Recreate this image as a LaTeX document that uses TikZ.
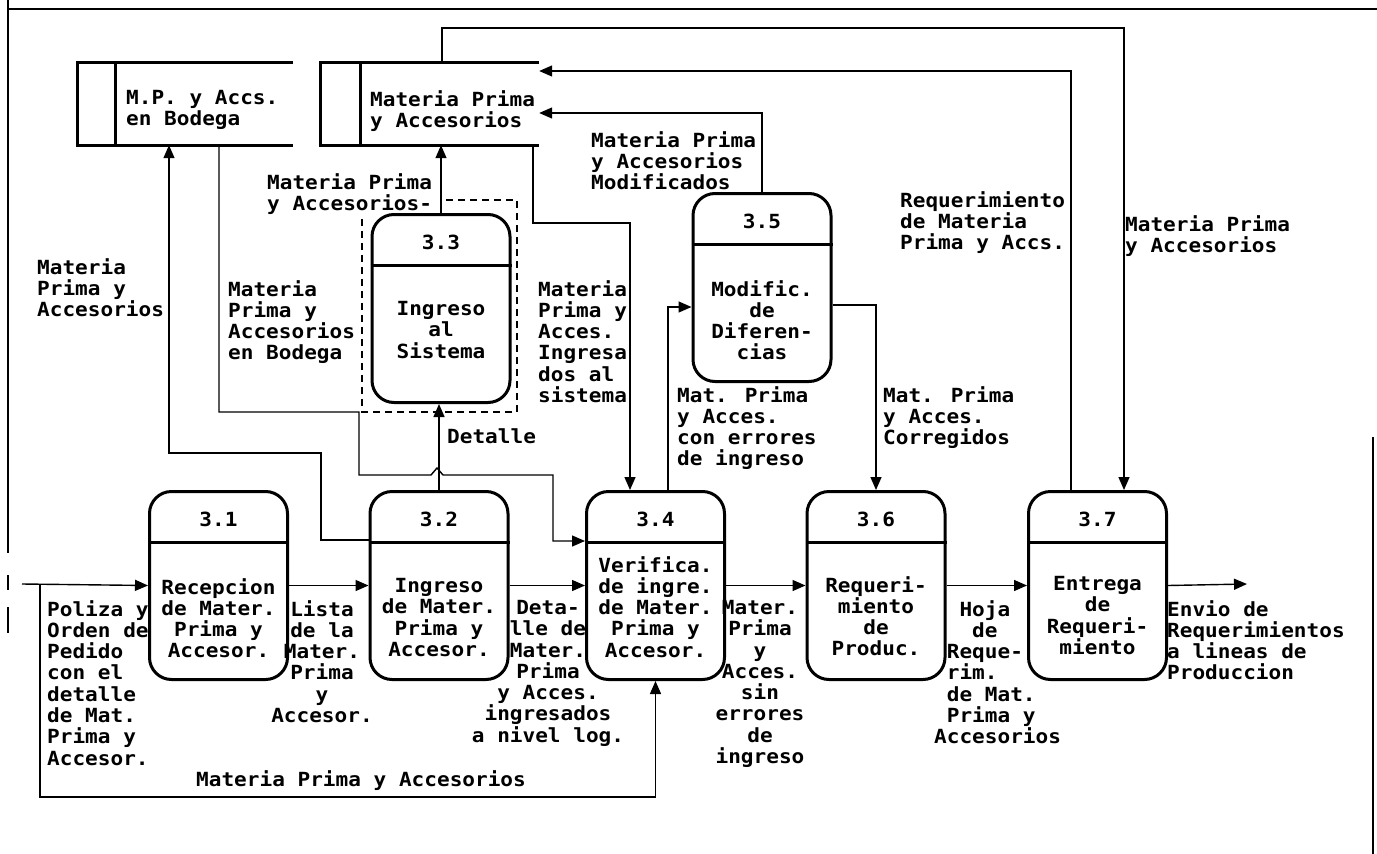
\documentclass[tikz,border=0pt]{standalone}
\usepackage{fontspec}
\usetikzlibrary{arrows.meta}
\newfontfamily\dfont[FakeStretch=1.08]{DejaVu Sans Mono}
\newcommand\lblfont{\dfont\bfseries\fontsize{19.5pt}{21.3pt}\selectfont}
\newcommand\pad[1]{\hphantom{#1}}
\newcommand\mkproc[6]{%
  \node[procbox] (#1) at (#2,#3) {};
  \draw[divline] ([yshift=-52pt]#1.north west) -- ([yshift=-52pt]#1.north east);
  \node[font=\lblfont, inner sep=0pt] (#1n) at ([yshift=-29pt]#1.north) {#4};
  \node[clbl] (#1t) at (#2,#5) {#6};
}
\begin{document}
\begin{tikzpicture}[x=1pt,y=-1pt,
  lbl/.style={font=\lblfont, inner sep=0pt, align=left, anchor=north west},
  clbl/.style={font=\lblfont, inner sep=0pt, align=center, anchor=north},
  procbox/.style={draw, line width=3pt, rounded corners=22pt, minimum width=138pt, minimum height=188pt, inner sep=0pt, anchor=north},
  divline/.style={line width=3pt},
  flow/.style={line width=1.4pt, -{Triangle[length=13pt,width=11pt]}},
  storeline/.style={line width=3.3pt},
  frameline/.style={line width=2pt},
  dashbox/.style={line width=1.4pt, dash pattern=on 7pt off 5pt},
  storebox/.style={minimum width=215pt, minimum height=82pt, inner sep=0pt}
]
\useasboundingbox (0,0) rectangle (1377,854);

% frame
\draw[frameline] (8,0) -- (8,553);
\draw[frameline] (8,575) -- (8,590);
\draw[frameline] (8,607) -- (8,633);
\draw[frameline] (8,9) -- (1377,9);
\draw[frameline] (1373,437) -- (1373,854);

% stores
\node[storebox] (s1) at (185.5,104) {};
\node[storebox, minimum width=218pt] (s2) at (430,104) {};
\draw[storeline] (s1.north east) -- (s1.north west) -- (s1.south west) -- (s1.south east);
\draw[storeline] ([xshift=38pt]s1.north west) -- ([xshift=38pt]s1.south west);
\draw[storeline] (s2.north east) -- (s2.north west) -- (s2.south west) -- (s2.south east);
\draw[storeline] ([xshift=40pt]s2.north west) -- ([xshift=40pt]s2.south west);
\node[lbl] (s1t) at (126,90) {M.P. y Accs.\\en Bodega};
\node[lbl] (s2t) at (370,90) {Materia Prima\\y Accesorios};

% processes
\mkproc{b31}{218.5}{490}{3.1}{578}{Recepcion\\de Mater.\\Prima y\\Accesor.}
\mkproc{b32}{439}{490}{3.2}{578}{Ingreso\\de Mater.\\Prima y\\Accesor.}
\mkproc{b34}{655.5}{490}{3.4}{556}{Verifica.\\de ingre.\\de Mater.\\Prima y\\Accesor.}
\mkproc{b36}{876}{490}{3.6}{576}{Requeri-\\miento\\de\\Produc.}
\mkproc{b37}{1097.5}{490}{3.7}{576}{Entrega\\de\\Requeri-\\miento}
\mkproc{b33}{441}{213}{3.3}{301}{Ingreso\\al\\Sistema}
\mkproc{b35}{762}{192}{3.5}{280}{Modific.\\de\\Diferen-\\cias}

% dashed boundary of 3.3
\draw[dashbox] (446,200) -- (517,200) -- (517,412) -- (362,412) -- (362,216);

% connectors
\coordinate (inS) at (22,584);
\coordinate (outE) at (1247,584);
\coordinate (brk) at (40,584);
\draw[flow] (inS) -- (b31.west);
\draw[flow] (b31.east) -- (b32.west);
\draw[flow] (b32.east) -- (b34.west);
\draw[flow] (b34.east) -- (b36.west);
\draw[flow] (b36.east) -- (b37.west);
\draw[flow] (b37.east) -- (outE);
\draw[flow] (brk) -- (40,797) -| (b34.south);
\draw[flow] (b32.west |- 0,540) -- (321,540) -- (321,453) -- (169,453) -- (169,0 |- s1.south);
\draw[flow] (219,0 |- s1.south) -- (219,412) -- (359,412) -- (359,475) -- (431,475) -- (437,468) -- (443,475) -- (553,475) -- (553,541) -- (b34.west |- 0,541);
\draw[flow] (b32.north) -- (b32.north |- b33.south);
\draw[flow] (b33.north) -- (b33.north |- s2.south);
\draw[flow] (533,0 |- s2.south) -- (533,223) -- (630,223) -- (630,0 |- b34.north);
\draw[flow] (668,0 |- b34.north) -- (668,307) -- (b35.west |- 0,307);
\draw[flow] (b35.east |- 0,305) -| (b36.north);
\draw[flow] (b35.north) |- (s2.east |- 0,113);
\draw[flow] (1071,0 |- b37.north) |- (s2.east |- 0,71);
\draw[flow] (442,0 |- s2.north) -- (442,28) -- (1124,28) -- (1124,0 |- b37.north);

% labels
\node[lbl] (l3) at (591,131) {Materia Prima\\y Accesorios\\Modificados};
\node[lbl] (l4) at (267,173) {Materia Prima\\y Accesorios-};
\node[lbl] (l5) at (900,191) {Requerimiento\\de Materia\\Prima y Accs.};
\node[lbl] (l6) at (1125,215) {Materia Prima\\y Accesorios};
\node[lbl] (l7) at (37,258) {Materia\\Prima y\\Accesorios};
\node[lbl] (l8) at (228,280) {Materia\\Prima y\\Accesorios\\en Bodega};
\node[lbl] (l9) at (538,280) {Materia\\Prima y\\Acces.\\Ingresa\\dos al\\sistema};
\node[lbl] (l10) at (677,386) {Mat. Prima\\y Acces.\\con errores\\de ingreso};
\node[lbl] (l11) at (883,386) {Mat. Prima\\y Acces.\\Corregidos};
\node[lbl] (l12) at (447,428) {Detalle};
\node[lbl] (l13) at (47,600) {Poliza y\\Orden de\\Pedido\\con el\\detalle\\de Mat.\\Prima y\\Accesor.};
\node[clbl] (l14) at (322,600) {Lista\\de la\\Mater.\\Prima\\y\\Accesor.};
\node[clbl] (l15) at (548,600) {Deta-\\lle de\\Mater.\\Prima\\y Acces.\\ingresados\\a nivel log.};
\node[clbl] (l16) at (760,600) {Mater.\\Prima\\y\\Acces.\\sin\\errores\\de\\ingreso};
\node[lbl] (l17) at (934,600) {\pad{00}Hoja\\\pad{000}de\\\pad{0}Reque-\\\pad{0}rim.\\\pad{0}de Mat.\\\pad{0}Prima y\\Accesorios};
\node[lbl] (l18) at (1167,600) {Envio de\\Requerimientos\\a lineas de\\Produccion};
\node[lbl] (l19) at (196,770) {Materia Prima y Accesorios};
\end{tikzpicture}
\end{document}
